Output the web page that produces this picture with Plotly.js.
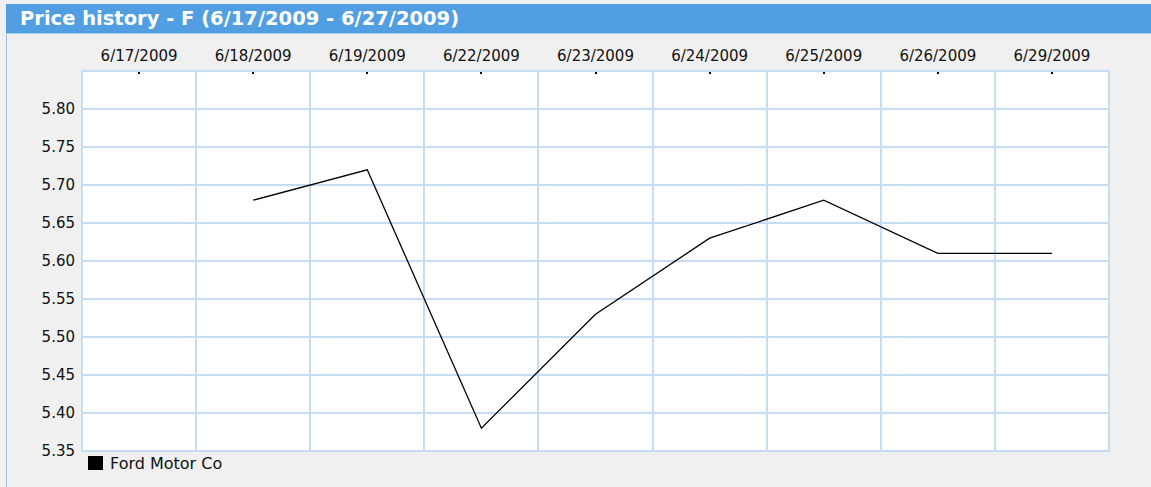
<!DOCTYPE html>
<html>
<head>
<meta charset="utf-8">
<script src="https://cdn.plot.ly/plotly-3.0.1.min.js"></script>
<style>
html,body{margin:0;padding:0;background:#fff;}
#chart{width:1151px;height:487px;}
</style>
</head>
<body>
<div id="chart"></div>
<script>
// Data
var dates = ["6/17/2009","6/18/2009","6/19/2009","6/22/2009","6/23/2009","6/24/2009","6/25/2009","6/26/2009","6/29/2009"];
var prices = [null, 5.68, 5.72, 5.38, 5.53, 5.63, 5.68, 5.61, 5.61];
var yTicks = [5.35, 5.40, 5.45, 5.50, 5.55, 5.60, 5.65, 5.70, 5.75, 5.80];
var seriesName = "Ford Motor Co";
var chartTitle = "Price history - F (6/17/2009 - 6/27/2009)";

var W = 1151, H = 487;
var M = {l: 82, r: 42, t: 71, b: 36};
var pw = W - M.l - M.r, ph = H - M.t - M.b;
function px(x){ return (x - M.l) / pw; }
function py(y){ return 1 - (y - M.t) / ph; }

var grid = "#c6dcf3";
var font = "Tahoma, 'DejaVu Sans', Verdana, sans-serif";

var trace = {
  x: dates, y: prices, type: "scatter", mode: "lines",
  name: seriesName, connectgaps: false,
  line: {color: "#000000", width: 1.3},
  showlegend: false, hoverinfo: "x+y"
};

var layout = {
  width: W, height: H,
  margin: M,
  paper_bgcolor: "#f0f0f0",
  plot_bgcolor: "#ffffff",
  showlegend: false,
  font: {family: font, size: 15, color: "#111111"},
  title: {
    text: "<b>" + chartTitle + "</b>",
    font: {family: font, size: 19.5, color: "#ffffff"},
    xref: "container", yref: "container",
    x: 20 / W, xanchor: "left",
    y: 1 - 18.5 / H, yanchor: "middle"
  },
  xaxis: {
    type: "category", categoryorder: "array", categoryarray: dates,
    range: [-0.5, dates.length - 0.5],
    side: "top", showgrid: false, zeroline: false,
    ticks: "inside", ticklen: 3, tickwidth: 2, tickcolor: "#000000",
    ticklabelstandoff: 6,
    showline: false, fixedrange: true,
    tickfont: {family: font, size: 15, color: "#111111"}
  },
  xaxis2: {
    overlaying: "x", type: "linear",
    range: [-0.5, dates.length - 0.5],
    tick0: 0.5, dtick: 1,
    showgrid: true, gridcolor: grid, gridwidth: 2,
    showticklabels: false, ticks: "", zeroline: false,
    showline: false, fixedrange: true
  },
  yaxis: {
    range: [5.35, 5.85],
    tickvals: yTicks, tickformat: ".2f",
    showgrid: true, gridcolor: grid, gridwidth: 2,
    zeroline: false, ticks: "", ticklabelstandoff: 6,
    showline: false, fixedrange: true,
    tickfont: {family: font, size: 15, color: "#111111"}
  },
  shapes: [
    {type: "rect", xref: "paper", yref: "paper", layer: "below",
     x0: px(6), x1: px(W + 2), y0: py(33), y1: py(4),
     fillcolor: "#519fe2", line: {width: 0}},
    {type: "line", xref: "paper", yref: "paper",
     x0: px(6.5), x1: px(6.5), y0: py(33), y1: py(H + 2),
     line: {color: "#9cc3ec", width: 1}},
    {type: "line", xref: "paper", yref: "paper",
     x0: px(6), x1: px(W + 2), y0: py(33.5), y1: py(33.5),
     line: {color: "#a9cbef", width: 1}},
    {type: "rect", xref: "paper", yref: "paper", layer: "above",
     x0: 0, x1: 1, y0: 0, y1: 1,
     fillcolor: "rgba(0,0,0,0)", line: {color: grid, width: 2}},
    {type: "rect", xref: "paper", yref: "paper",
     x0: px(88), x1: px(103), y0: py(470), y1: py(456),
     fillcolor: "#000000", line: {width: 0}}
  ],
  annotations: [
    {xref: "paper", yref: "paper", x: px(108), y: py(463),
     xanchor: "left", yanchor: "middle", showarrow: false,
     text: seriesName, font: {family: font, size: 16, color: "#111111"}}
  ]
};

var trace2 = {x: [], y: [], xaxis: "x2", yaxis: "y", showlegend: false, hoverinfo: "skip"};

Plotly.newPlot("chart", [trace2, trace], layout, {displayModeBar: false, staticPlot: true});
</script>
</body>
</html>
